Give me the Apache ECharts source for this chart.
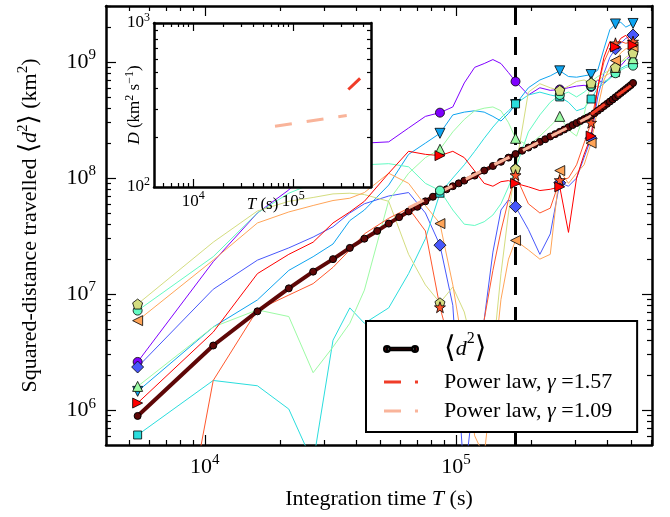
<!DOCTYPE html>
<html>
<head>
<meta charset="utf-8">
<script src="https://cdn.jsdelivr.net/npm/echarts@6/dist/echarts.min.js"></script>
<style>html,body{margin:0;padding:0;background:#fff}#chart{width:670px;height:517px}</style>
</head>
<body>
<div id="chart"></div>
<script>
// sample times (s) of the trajectories, every 5400 s thinned out
var T = [5400, 10800, 16200, 21600, 27000, 32400, 37800, 43200, 54000, 64800, 75600, 86400,
  97200, 108000, 118800, 129600, 140400, 151200, 162000, 172800, 194400, 216000, 237600, 259200,
  280800, 302400, 324000, 345600, 367200, 388800, 410400, 432000, 453600, 475200, 507600]
var MARKER_IDX = [0, 11, 19, 23, 27, 31, 34]

var purple = [2.6e6, 1.9e7, 5.0e7, 7.9e7, 1.3e8, 1.7e8, 1.9e8, 2.0e8, 2.05e8, 2.7e8, 3.4e8, 3.66e8,
  4.1e8, 6.6e8, 9.0e8, 9.7e8, 1.05e9, 9.7e8, 8.1e8, 6.8e8, 5.2e8, 6.0e8, 5.7e8, 5.8e8,
  6.0e8, 6.2e8, 6.3e8, 6.1e8, 7.0e8, 6.6e8, 7.3e8, 8.5e8, 9.3e8, 1.04e9, 1.2e9]
var blue = [2.35e6, 1.1e7, 1.96e7, 2.5e7, 3.1e7, 3.8e7, 5.0e7, 6.0e7, 7.0e7, 7.5e7, 5.0e7, 2.64e7,
  8.0e6, 2.5e5, 1.5e6, 6.0e6, 2.3e7, 5.3e7, 6.5e7, 5.67e7, 3.6e7, 2.2e7, 3.3e7, 9.1e7,
  8.5e7, 1.0e8, 1.5e8, 2.2e8, 5.0e8, 8.0e8, 1.1e9, 1.3e9, 1.45e9, 1.6e9, 1.71e9]
var skyblue = [1.45e6, 5.2e6, 8.9e6, 1.6e7, 2.1e7, 2.7e7, 4.3e7, 5.3e7, 8.7e7, 1.6e8, 2.0e8, 2.43e8,
  3.5e8, 3.7e8, 3.8e8, 3.7e8, 3.4e8, 3.1e8, 3.6e8, 4.3e8, 6.0e8, 7.0e8, 7.6e8, 8.4e8,
  7.5e8, 7.4e8, 7.6e8, 7.8e8, 8.5e8, 1.3e9, 1.9e9, 2.13e9, 2.2e9, 2.0e9, 2.15e9]
var cyan = [6.1e5, 1.8e6, 1.62e6, 1.02e6, 3.5e5, 4.0e6, 7.6e6, 5.6e6, 7.6e6, 1.5e7, 3.0e7, 7.4e7,
  1.0e8, 1.3e8, 1.7e8, 2.2e8, 2.75e8, 3.3e8, 3.8e8, 4.35e8, 5.2e8, 5.5e8, 5.2e8, 5.0e8,
  4.5e8, 3.8e8, 4.0e8, 4.8e8, 6.0e8, 6.5e8, 7.2e8, 8.1e8, 8.8e8, 9.3e8, 9.8e8]
var aqua = [7.2e6, 2.1e7, 5.0e7, 7.4e7, 9.0e7, 1.05e8, 1.2e8, 1.3e8, 1.33e8, 1.25e8, 9.0e7, 7.8e7,
  5.3e7, 4.0e7, 3.9e7, 4.2e7, 4.8e7, 6.0e7, 8.4e7, 1.2e8, 2.5e8, 3.5e8, 4.5e8, 5.2e8,
  5.5e8, 5.0e8, 5.5e8, 6.2e8, 6.5e8, 6.8e8, 7.2e8, 8.0e8, 8.5e8, 9.0e8, 9.3e8]
var green = [1.6e6, 5.2e6, 7.3e6, 6.4e6, 2.1e6, 3.5e6, 5.6e6, 1.08e7, 6.4e7, 1.1e8, 1.5e8, 1.77e8,
  2.5e8, 3.2e8, 3.8e8, 4.0e8, 4.1e8, 3.8e8, 3.0e8, 2.2e8, 1.9e8, 2.3e8, 2.8e8, 3.4e8,
  2.6e8, 2.3e8, 3.5e8, 6.8e8, 7.5e8, 8.0e8, 8.5e8, 9.0e8, 1.0e9, 1.05e9, 1.07e9]
var olive = [8.2e6, 2.8e7, 5.2e7, 6.3e7, 6.8e7, 7.3e7, 7.4e7, 7.2e7, 6.3e7, 2.2e7, 1.2e7, 8.4e6,
  1.15e7, 7.0e6, 3.0e6, 1.5e6, 3.0e6, 1.5e7, 5.0e7, 1.2e8, 5.5e8, 6.5e8, 6.0e8, 5.7e8,
  6.2e8, 6.8e8, 7.0e8, 6.6e8, 7.0e8, 7.5e8, 8.0e8, 9.0e8, 1.0e9, 1.1e9, 1.2e9]
var orange = [5.9e6, 1.96e7, 4.1e7, 5.1e7, 5.8e7, 6.4e7, 6.7e7, 7.5e7, 1.1e8, 9.0e7, 5.8e7, 4.05e7,
  1.2e7, 3.0e6, 6.0e5, 4.0e5, 2.0e6, 9.0e6, 2.0e7, 2.9e7, 2.4e7, 2.0e7, 2.2e7, 1.16e8,
  9.0e7, 1.1e8, 1.3e8, 2.0e8, 4.0e8, 7.0e8, 9.0e8, 1.03e9, 1.2e9, 1.3e9, 1.35e9]
var orangered = [600, 1.8e6, 7.3e6, 9.8e6, 1.23e7, 1.7e7, 2.4e7, 3.3e7, 4.5e7, 5.5e7, 3.5e7, 7.7e6,
  3.0e6, 1.0e6, 2.0e6, 6.0e6, 1.6e7, 3.5e7, 6.5e7, 1.06e8, 6.0e7, 5.0e7, 5.5e7, 9.6e7,
  1.0e8, 1.3e8, 2.0e8, 3.0e8, 6.0e8, 1.0e9, 1.3e9, 1.45e9, 1.5e9, 1.45e9, 1.5e9]
var red = [1.15e6, 4.7e6, 1.5e7, 2.2e7, 2.8e7, 4.1e7, 5.1e7, 6.3e7, 1.1e8, 1.7e8, 1.6e8, 1.56e8,
  1.7e8, 1.5e8, 1.15e8, 9.0e7, 8.5e7, 9.3e7, 9.5e7, 9.0e7, 8.4e7, 7.8e7, 8.0e7, 8.4e7,
  3.4e7, 1.0e8, 1.6e8, 2.3e8, 6.0e8, 1.1e9, 1.5e9, 1.35e9, 1.6e9, 1.7e9, 1.4e9]

// mean squared distance
var T_MEAN = [5400, 10800, 16200, 21600, 27000, 32400, 37800, 43200, 48600, 54000, 59400, 64800,
  70200, 75600, 81000, 86400, 91800, 97200, 102600, 108000, 118800, 129600, 140400, 151200,
  162000, 172800, 183600, 194400, 205200, 216000, 226800, 237600, 248400, 259200, 270000,
  280800, 291600, 302400, 313200, 324000, 334800, 345600, 356400, 367200, 378000, 388800,
  399600, 410400, 421200, 432000, 442800, 453600, 464400, 475200, 486000, 496800, 507600]
var D2_MEAN = [0.89e6, 3.6e6, 7.1e6, 1.12e7, 1.56e7, 2.0e7, 2.5e7, 3.0e7, 3.5e7, 4.05e7, 4.6e7, 5.15e7,
  5.65e7, 6.3e7, 6.9e7, 7.5e7, 8.0e7, 8.5e7, 9.0e7, 9.5e7, 1.05e8, 1.16e8, 1.27e8, 1.38e8,
  1.50e8, 1.61e8, 1.72e8, 1.83e8, 1.94e8, 2.05e8, 2.16e8, 2.28e8, 2.39e8, 2.50e8, 2.62e8,
  2.74e8, 2.86e8, 2.98e8, 3.10e8, 3.22e8, 3.33e8, 3.45e8, 3.62e8, 3.80e8, 3.98e8, 4.17e8,
  4.36e8, 4.56e8, 4.76e8, 4.97e8, 5.18e8, 5.40e8, 5.62e8, 5.85e8, 6.08e8, 6.32e8, 6.6e8]

// power-law fits
var FIT157_T = [345600, 507600]
var FIT157_D2 = [3.55e8, 6.45e8]
var FIT109_T = [64800, 345600]
var FIT109_D2 = [5.53e7, 3.43e8]
// inset: diffusivity of the fits
var INSET157_T = [355000, 465000]
var INSET157_D = [393, 459]
var INSET109_T = [65600, 342000]
var INSET109_D = [235, 273]

var DASH_T = 172800

var X_MAJOR = [1e4, 1e5]
var X_MINOR = [5000, 6000, 7000, 8000, 9000, 2e4, 3e4, 4e4, 5e4, 6e4, 7e4, 8e4, 9e4, 2e5, 3e5, 4e5, 5e5, 6e5]
var Y_MAJOR = [1e6, 1e7, 1e8, 1e9]
var Y_MINOR = [6e5, 7e5, 8e5, 9e5, 2e6, 3e6, 4e6, 5e6, 6e6, 7e6, 8e6, 9e6, 2e7, 3e7, 4e7, 5e7, 6e7, 7e7, 8e7, 9e7,
  2e8, 3e8, 4e8, 5e8, 6e8, 7e8, 8e8, 9e8, 2e9, 3e9]
var IY_MAJOR = [100, 1000]
var IY_MINOR = [200, 300, 400, 500, 600, 700, 800, 900]

var FONT = "'Liberation Serif', 'DejaVu Serif', serif"

var echartsInstance = echarts.init(document.getElementById('chart'))

var tracks = [
  { ys: purple, color: '#8000ff', symbol: 'circle', size: 9, rotate: 0 },
  { ys: blue, color: '#4757fb', symbol: 'diamond', size: 12, rotate: 0 },
  { ys: skyblue, color: '#0ea4f0', symbol: 'triangle', size: 10, rotate: 180 },
  { ys: cyan, color: '#2adddd', symbol: 'rect', size: 8, rotate: 0 },
  { ys: aqua, color: '#63fbc3', symbol: 'circle', size: 9, rotate: 0 },
  { ys: green, color: '#9cfba4', symbol: 'triangle', size: 10, rotate: 0 },
  { ys: olive, color: '#d4dd80', symbol: 'path://M0,-10 L9.51,-3.09 L5.88,8.09 L-5.88,8.09 L-9.51,-3.09 Z', size: 10, rotate: 0 },
  { ys: orange, color: '#ffa457', symbol: 'triangle', size: 10, rotate: 90 },
  { ys: orangered, color: '#ff572c', symbol: 'path://M0,-10 L2.35,-3.24 L9.51,-3.09 L3.8,1.24 L5.88,8.09 L0,4 L-5.88,8.09 L-3.8,1.24 L-9.51,-3.09 L-2.35,-3.24 Z', size: 11, rotate: 0 },
  { ys: red, color: '#ff0000', symbol: 'triangle', size: 10, rotate: -90 }
]

function pairs (xs, ys) {
  return xs.map(function (x, i) { return [x, ys[i]] })
}

function pow10 (v) {
  var e = Math.round(Math.log(v) / Math.LN10)
  return '{b|10}{s|' + e + '}'
}

function logAxes (grid, posA, posB, min, max, major, minor, majLen, minLen, label, zlevel) {
  function one (pos, ticks, len, line) {
    return {
      type: 'log', logBase: 10, gridIndex: grid, position: pos, min: min, max: max, zlevel: zlevel,
      axisLine: { show: line, onZero: false, lineStyle: { color: '#000', width: 2.5 } },
      axisTick: { show: true, inside: true, length: len, customValues: ticks, lineStyle: { color: '#000', width: 1.2 } },
      axisLabel: { show: false },
      splitLine: { show: false },
      minorTick: { show: false },
      nameMoveOverlap: false,
      silent: true
    }
  }
  var a = one(posA, major, majLen, true)
  a.axisLabel = label
  return [a, one(posA, minor, minLen, false), one(posB, major, majLen, true), one(posB, minor, minLen, false)]
}

function tickLabel (size, margin) {
  return {
    show: true, customValues: null, margin: margin, color: '#000', fontFamily: FONT,
    formatter: pow10,
    rich: {
      b: { fontSize: size, fontFamily: FONT, color: '#000', lineHeight: size + 6 },
      s: { fontSize: Math.round(size * 0.68), fontFamily: FONT, color: '#000', lineHeight: Math.round(size * 0.68), verticalAlign: 'top' }
    }
  }
}

var xl = tickLabel(22, 8); xl.customValues = X_MAJOR
var yl = tickLabel(22, 10); yl.customValues = Y_MAJOR
var ixl = tickLabel(17, 3); ixl.customValues = X_MAJOR
var iyl = tickLabel(17, 4); iyl.customValues = IY_MAJOR

var xAxes = logAxes(0, 'bottom', 'top', 4040, 6.04e5, X_MAJOR, X_MINOR, 10, 5, xl, 0)
  .concat(logAxes(1, 'bottom', 'top', 4045, 5.98e5, X_MAJOR, X_MINOR, 8, 4, ixl, 1))
var yAxes = logAxes(0, 'left', 'right', 5.0e5, 3.04e9, Y_MAJOR, Y_MINOR, 10, 5, yl, 0)
  .concat(logAxes(1, 'left', 'right', 100, 1000, IY_MAJOR, IY_MINOR, 8, 4, iyl, 1))

var nameRich = {
  rm: { fontSize: 22, fontFamily: FONT, color: '#000', lineHeight: 28 },
  it: { fontSize: 22, fontFamily: FONT, fontStyle: 'italic', color: '#000', lineHeight: 28 },
  ang: { fontSize: 26, fontFamily: FONT, color: '#000', lineHeight: 28 },
  sup: { fontSize: 15, fontFamily: FONT, color: '#000', lineHeight: 15, verticalAlign: 'top' }
}
var inRich = {
  rm: { fontSize: 17, fontFamily: FONT, color: '#000', lineHeight: 22 },
  it: { fontSize: 17, fontFamily: FONT, fontStyle: 'italic', color: '#000', lineHeight: 22 },
  sup: { fontSize: 12, fontFamily: FONT, color: '#000', lineHeight: 12, verticalAlign: 'top' }
}

xAxes[0].name = '{rm|Integration time }{it|T}{rm| (s)}'
xAxes[0].nameLocation = 'middle'
xAxes[0].nameGap = 40
xAxes[0].nameTextStyle = { rich: nameRich }
yAxes[0].name = '{rm|Squared-distance travelled }{ang|⟨}{it|d}{sup|2}{ang|⟩}{rm| (km}{sup|2}{rm|)}'
yAxes[0].nameLocation = 'middle'
yAxes[0].nameGap = 62
yAxes[0].nameTextStyle = { rich: nameRich }
xAxes[4].name = '{it|T}{rm| (s)}'
xAxes[4].nameLocation = 'middle'
xAxes[4].nameGap = 7
xAxes[4].nameTextStyle = { rich: inRich }
yAxes[4].name = '{it|D}{rm| (km}{sup|2}{rm| s}{sup|−1}{rm|)}'
yAxes[4].nameLocation = 'middle'
yAxes[4].nameGap = 8
yAxes[4].nameTextStyle = { rich: inRich }

var series = []

tracks.forEach(function (t) {
  series.push({
    type: 'line', data: pairs(T, t.ys), showSymbol: false, symbol: 'none', z: 2,
    lineStyle: { color: t.color, width: 1 }, clip: true, silent: true
  })
})

series.push({
  name: 'd2', type: 'line', data: pairs(T_MEAN, D2_MEAN), z: 3,
  showSymbol: true, showAllSymbol: true, symbol: 'circle', symbolSize: 7,
  color: '#5e0707',
  lineStyle: { color: '#5e0707', width: 4 },
  itemStyle: { color: '#5e0707', borderColor: '#000', borderWidth: 1 },
  silent: true,
  markLine: {
    silent: true, symbol: 'none', label: { show: false },
    lineStyle: { color: '#000', width: 3, type: [18, 12] },
    data: [{ xAxis: DASH_T }]
  }
})

series.push({
  name: 'g157', type: 'line', data: pairs(FIT157_T, FIT157_D2), z: 4, showSymbol: false, symbol: 'none', color: '#f03c28',
  lineStyle: { color: '#f03c28', width: 3, type: [17, 15] }, silent: true
})
series.push({
  name: 'g109', type: 'line', data: pairs(FIT109_T, FIT109_D2), z: 4, showSymbol: false, symbol: 'none', color: '#f9b49a',
  lineStyle: { color: '#f9b49a', width: 3, type: [17, 15] }, silent: true
})

tracks.forEach(function (t) {
  series.push({
    type: 'scatter', z: 5, symbol: t.symbol, symbolSize: t.size, symbolRotate: t.rotate,
    data: MARKER_IDX.map(function (i) { return [T[i], t.ys[i]] }),
    itemStyle: { color: t.color, borderColor: '#000', borderWidth: 0.8, opacity: 1 },
    silent: true
  })
})

series.push({
  name: 'i157', type: 'line', xAxisIndex: 4, yAxisIndex: 4, zlevel: 1, z: 4,
  data: pairs(INSET157_T, INSET157_D), showSymbol: false, symbol: 'none',
  lineStyle: { color: '#f03c28', width: 3, type: [17, 15] }, silent: true
})
series.push({
  name: 'i109', type: 'line', xAxisIndex: 4, yAxisIndex: 4, zlevel: 1, z: 4,
  data: pairs(INSET109_T, INSET109_D), showSymbol: false, symbol: 'none',
  lineStyle: { color: '#f9b49a', width: 3, type: [17, 15] }, silent: true
})

var legendNames = {
  d2: '{ang|⟨}{it|d}{sup|2}{ang|⟩}',
  g157: '{rm|Power law, }{it|γ}{rm| =1.57}',
  g109: '{rm|Power law, }{it|γ}{rm| =1.09}'
}
var dashIcon = 'path://M0,3.6 L17,3.6 L17,6.4 L0,6.4 Z M31,3.6 L34,3.6 L34,6.4 L31,6.4 Z M0,0 L0.01,0 Z M34,10 L34.01,10 Z'

var options = {
  animation: false,
  backgroundColor: '#fff',
  grid: [
    { left: 106, top: 6, right: 18, bottom: 72, show: false },
    { left: 154, top: 23, width: 217, height: 164, show: true, backgroundColor: '#fff', borderWidth: 0, zlevel: 1 }
  ],
  xAxis: xAxes,
  yAxis: yAxes,
  legend: {
    zlevel: 1, orient: 'vertical', left: 366, top: 321,
    backgroundColor: '#fff', borderColor: '#000', borderWidth: 2, borderRadius: 0,
    padding: [10, 25, 10, 17], itemGap: 7, itemWidth: 34, itemHeight: 10,
    selectedMode: false,
    data: [
      { name: 'd2', icon: 'path://M0,5 A3,3 0 1,0 6,5 A3,3 0 1,0 0,5 Z M28,5 A3,3 0 1,0 34,5 A3,3 0 1,0 28,5 Z M3,3.7 L31,3.7 L31,6.3 L3,6.3 Z' },
      { name: 'g157', icon: dashIcon },
      { name: 'g109', icon: dashIcon }
    ],
    formatter: function (name) { return legendNames[name] },
    textStyle: {
      fontFamily: FONT,
      padding: [0, 0, 0, 21],
      rich: {
        rm: { fontSize: 22, fontFamily: FONT, color: '#000', lineHeight: 28 },
        it: { fontSize: 22, fontFamily: FONT, fontStyle: 'italic', color: '#000', lineHeight: 28 },
        ang: { fontSize: 30, fontFamily: FONT, color: '#000', lineHeight: 36 },
        sup: { fontSize: 16, fontFamily: FONT, color: '#000', lineHeight: 16, verticalAlign: 'top' }
      }
    }
  },
  series: series
}

echartsInstance.setOption(options)
</script>
</body>
</html>
